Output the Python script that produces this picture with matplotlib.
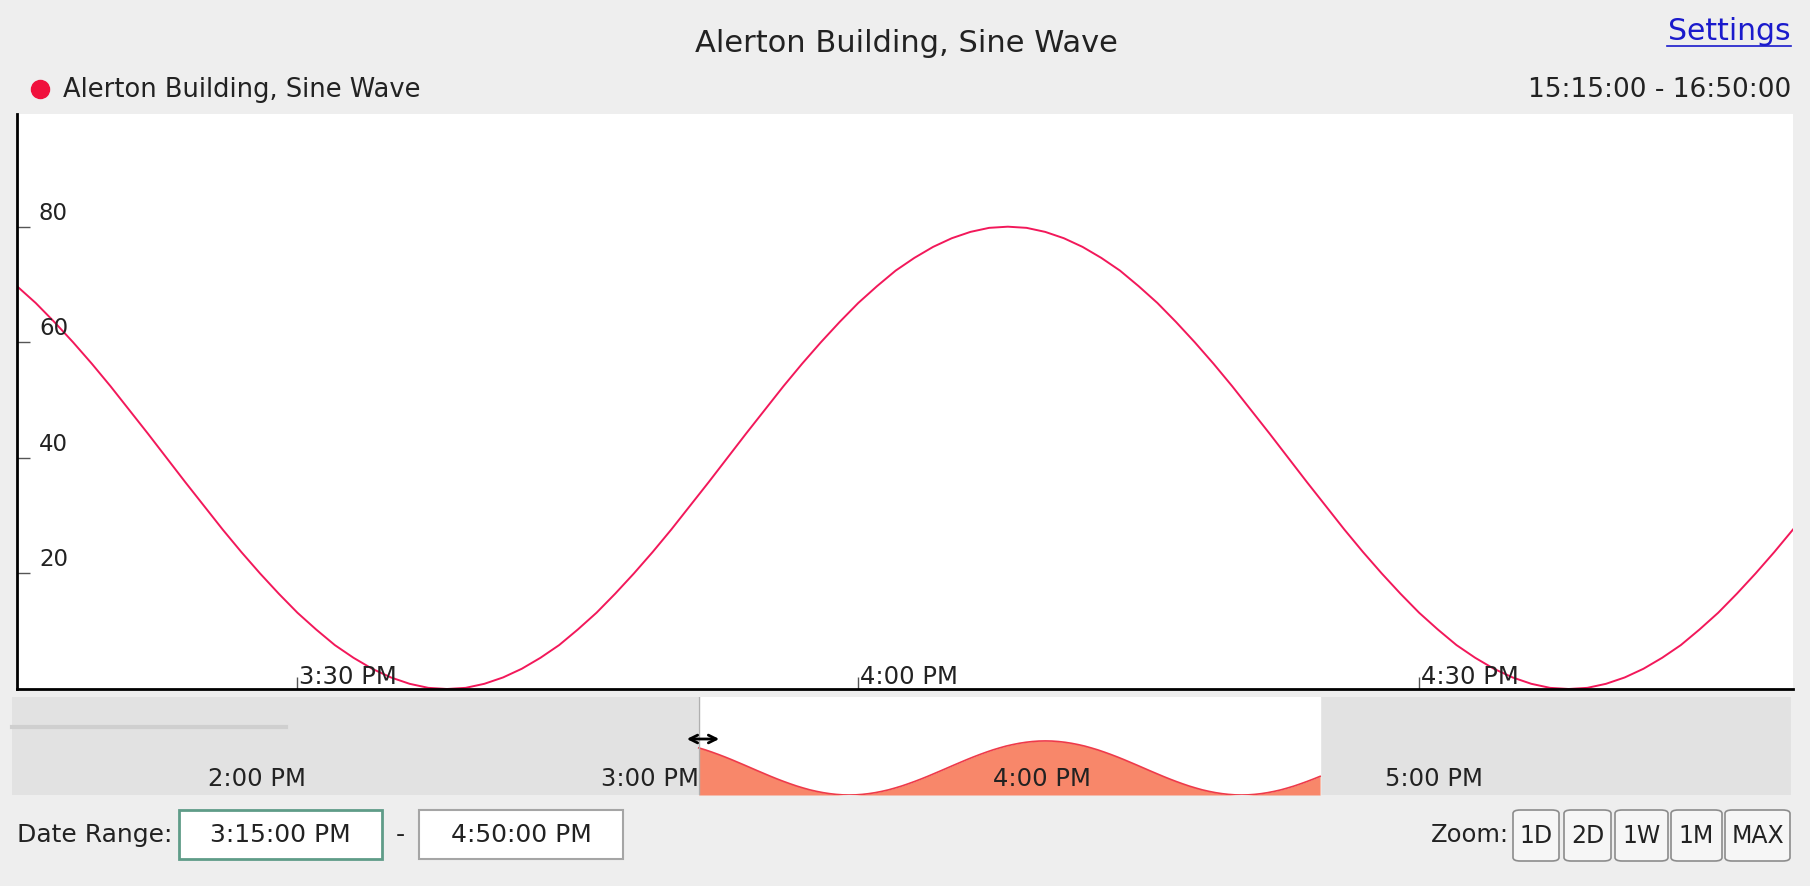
import numpy as np
import pandas as pd
import matplotlib.pyplot as plt
import matplotlib.dates as mdates
from matplotlib.patches import Rectangle, FancyBboxPatch

# values, one per minute from 3:15 PM to 4:50 PM
sine_values = [
    69.7, 66.8, 63.5, 60.0, 56.3, 52.4, 48.3, 44.2, 40.0, 35.8, 31.7, 27.6,
    23.7, 20.0, 16.5, 13.2, 10.3, 7.6, 5.4, 3.5, 2.0, 0.9, 0.2, 0.0,
    0.2, 0.9, 2.0, 3.5, 5.4, 7.6, 10.3, 13.2, 16.5, 20.0, 23.7, 27.6,
    31.7, 35.8, 40.0, 44.2, 48.3, 52.4, 56.3, 60.0, 63.5, 66.8, 69.7, 72.4,
    74.6, 76.5, 78.0, 79.1, 79.8, 80.0,
    79.8, 79.1, 78.0, 76.5, 74.6, 72.4, 69.7, 66.8, 63.5, 60.0, 56.3, 52.4,
    48.3, 44.2, 40.0, 35.8, 31.7, 27.6, 23.7, 20.0, 16.5, 13.2, 10.3, 7.6,
    5.4, 3.5, 2.0, 0.9, 0.2, 0.0,
    0.2, 0.9, 2.0, 3.5, 5.4, 7.6, 10.3, 13.2, 16.5, 20.0, 23.7, 27.6,
]
times = pd.date_range('2024-01-01 15:15', periods=len(sine_values), freq='1min')

y_ticks = [20, 40, 60, 80]
x_ticks = pd.to_datetime(['2024-01-01 15:30', '2024-01-01 16:00', '2024-01-01 16:30'])
x_tick_labels = ['3:30 PM', '4:00 PM', '4:30 PM']
nav_ticks = pd.to_datetime(['2024-01-01 14:00', '2024-01-01 15:00',
                            '2024-01-01 16:00', '2024-01-01 17:00'])
nav_tick_labels = ['2:00 PM', '3:00 PM', '4:00 PM', '5:00 PM']
zoom_buttons = ['1D', '2D', '1W', '1M', 'MAX']

series_name = 'Alerton Building, Sine Wave'
line_color = '#f2185a'
text_color = '#222222'

W, H = 1810, 887
fig = plt.figure(figsize=(W / 100, H / 100), dpi=100)
fig.patch.set_facecolor('#eeeeee')
plt.rcParams['font.family'] = ['DejaVu Sans']


def box(x0, y0, x1, y1):
    # pixel box (top-left origin) -> figure fraction rect
    return [x0 / W, 1 - y1 / H, (x1 - x0) / W, (y1 - y0) / H]


def fx(x):
    return x / W


def fy(y):
    return 1 - y / H


# main chart
ax = fig.add_axes(box(17, 115, 1793, 690))
ax.set_facecolor('white')
ax.plot(times, sine_values, color=line_color, linewidth=1.4)
ax.set_xlim(pd.Timestamp('2024-01-01 15:15'), pd.Timestamp('2024-01-01 16:50'))
ax.set_ylim(0, 99.5)
for s in ['top', 'right']:
    ax.spines[s].set_visible(False)
for s in ['left', 'bottom']:
    ax.spines[s].set_linewidth(2)
    ax.spines[s].set_color('black')
ax.set_yticks(y_ticks)
ax.set_xticks(x_ticks)
ax.tick_params(axis='both', direction='in', length=9, width=1, color='#555555',
               labelleft=False, labelbottom=False)
for v in y_ticks:
    ax.annotate(str(v), xy=(0, v), xycoords=('axes fraction', 'data'),
                xytext=(22, 3), textcoords='offset pixels',
                ha='left', va='bottom', fontsize=16.5, color=text_color)
for t, lab in zip(x_ticks, x_tick_labels):
    ax.annotate(lab, xy=(t, 0), xycoords=('data', 'axes fraction'),
                xytext=(2, 1), textcoords='offset pixels',
                ha='left', va='bottom', fontsize=17.5, color=text_color)

# navigator
nav = fig.add_axes(box(12, 698, 1791, 796))
nav.set_facecolor('#e2e2e2')
nav.set_xlim(pd.Timestamp('2024-01-01 13:30'), pd.Timestamp('2024-01-01 18:02'))
nav.set_ylim(0, 145)
for s in nav.spines.values():
    s.set_visible(False)
nav.set_xticks([])
nav.set_yticks([])
nav.axvspan(times[0], times[-1], color='white', zorder=0)
nav.fill_between(times, sine_values, 0, color='#f8876a', linewidth=0, zorder=1)
nav.plot(times, sine_values, color='#ee3a4a', linewidth=1.2, zorder=2)
nav.axvline(times[0], color='#b0b0b0', linewidth=1, zorder=3)
for t, lab in zip(nav_ticks, nav_tick_labels):
    nav.annotate(lab, xy=(t, 0), xycoords=('data', 'axes fraction'),
                 xytext=(0, 17), textcoords='offset pixels',
                 ha='left', va='center', fontsize=17.5, color=text_color, zorder=4)
nav.annotate('', xy=(722, H - 740), xycoords='figure pixels',
             xytext=(684, H - 740), textcoords='figure pixels',
             arrowprops=dict(arrowstyle='<->', color='black', lw=2,
                             mutation_scale=14))
fig.add_artist(plt.Line2D([fx(12), fx(286)], [fy(728), fy(728)],
                          color='#cfcfcf', linewidth=3))

# header
fig.text(fx(906), fy(43), series_name, ha='center', va='center',
         fontsize=22, color=text_color)
fig.text(fx(1791), fy(32), 'Settings', ha='right', va='center',
         fontsize=21.5, color='#1a1acc')
fig.add_artist(plt.Line2D([fx(1667), fx(1791)], [fy(47), fy(47)],
                          color='#1a1acc', linewidth=1.2))
fig.add_artist(plt.Line2D([fx(40)], [fy(90)], marker='o', markersize=13,
                          color='#f0103c', linestyle='none'))
fig.text(fx(63), fy(90), series_name, ha='left', va='center',
         fontsize=18.5, color=text_color)
fig.text(fx(1791), fy(90), '15:15:00 - 16:50:00', ha='right', va='center',
         fontsize=19, color=text_color)

# date range inputs
fig.text(fx(17), fy(835), 'Date Range:', ha='left', va='center',
         fontsize=18, color=text_color)
fig.add_artist(Rectangle((fx(179), fy(860)), fx(382) - fx(179), fy(811) - fy(860),
                         transform=fig.transFigure, facecolor='white',
                         edgecolor='#5f9c88', linewidth=2))
fig.text(fx(280), fy(835), '3:15:00 PM', ha='center', va='center',
         fontsize=18, color=text_color)
fig.text(fx(400), fy(835), '-', ha='center', va='center',
         fontsize=18, color=text_color)
fig.add_artist(Rectangle((fx(419), fy(860)), fx(623) - fx(419), fy(811) - fy(860),
                         transform=fig.transFigure, facecolor='white',
                         edgecolor='#a5a5a5', linewidth=1.5))
fig.text(fx(521), fy(835), '4:50:00 PM', ha='center', va='center',
         fontsize=18, color=text_color)

# zoom buttons
fig.text(fx(1509), fy(835), 'Zoom:', ha='right', va='center',
         fontsize=17.5, color=text_color)
btn_edges = [(1513, 1559), (1564, 1611), (1615, 1668), (1671, 1722), (1725, 1790)]
for (x0, x1), lab in zip(btn_edges, zoom_buttons):
    fig.add_artist(FancyBboxPatch((fx(x0), fy(862)), fx(x1) - fx(x0), fy(811) - fy(862),
                                  boxstyle='round,pad=0,rounding_size=0.004',
                                  transform=fig.transFigure, facecolor='#f6f6f6',
                                  edgecolor='#8c8c8c', linewidth=1.2))
    fig.text(fx((x0 + x1) / 2), fy(836), lab, ha='center', va='center',
             fontsize=17, color=text_color)

fig.savefig('out.png', dpi=100, facecolor=fig.get_facecolor())
